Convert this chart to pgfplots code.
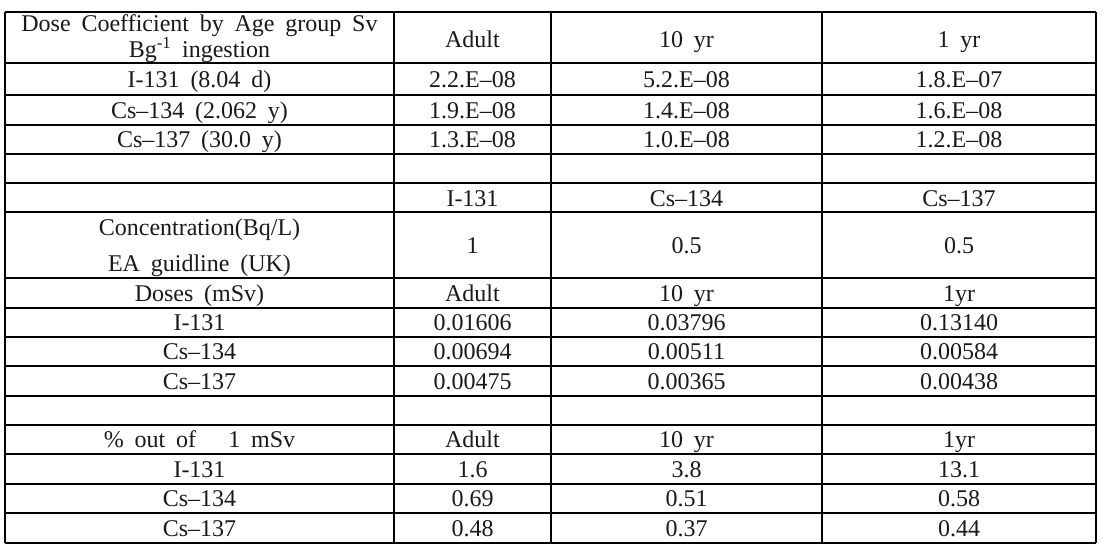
\documentclass[border=0pt]{standalone}
\usepackage{pgfplots}
\pgfplotsset{compat=1.18}
\usepackage{fontspec}
\setmainfont{Liberation Serif}[WordSpace=1.8]
\begin{document}
\begin{tikzpicture}
\begin{axis}[
  width=1106pt, height=555pt, scale only axis,
  xmin=0, xmax=1106, ymin=0, ymax=555, y dir=reverse,
  axis lines=none, xtick=\empty, ytick=\empty,
  clip=false,
]
% bounding frame (invisible)
\addplot[draw=none] coordinates {(0,0) (1106,555)};
% horizontal rules
\pgfplotsinvokeforeach{12,63,95,125,154,183,212,278,308,337,366,396,425,454,484,513,543}{
  \addplot[black, line width=1.2pt] coordinates {(5,#1) (1096,#1)};
}
% vertical rules
\pgfplotsinvokeforeach{5,394,551,822,1096}{
  \addplot[black, line width=1.2pt] coordinates {(#1,12) (#1,543)};
}
% cell texts
\addplot[draw=none, nodes near coords, point meta=explicit symbolic,
  every node near coord/.append style={anchor=base, inner sep=0pt, text=black!90,
    font=\fontsize{24}{28}\selectfont}]
table[col sep=semicolon, meta=label] {
x;y;label
199.5;31;Dose Coefficient by Age group Sv
199.5;57.5;Bg\textsuperscript{-1} ingestion
472.5;47;Adult
686.5;47;10 yr
959;47;1 yr
199.5;87.5;I-131 (8.04 d)
472.5;87.5;2.2.E--08
686.5;87.5;5.2.E--08
959;87.5;1.8.E--07
199.5;118;Cs--134 (2.062 y)
472.5;118;1.9.E--08
686.5;118;1.4.E--08
959;118;1.6.E--08
199.5;147.5;Cs--137 (30.0 y)
472.5;147.5;1.3.E--08
686.5;147.5;1.0.E--08
959;147.5;1.2.E--08
472.5;206;I-131
686.5;206;Cs--134
959;206;Cs--137
199.5;235.5;Concentration(Bq/L)
199.5;271;EA guidline (UK)
472.5;253;1
686.5;253;0.5
959;253;0.5
199.5;301.5;Doses (mSv)
472.5;301.5;Adult
686.5;301.5;10 yr
959;301.5;1yr
199.5;330.5;I-131
472.5;330.5;0.01606
686.5;330.5;0.03796
959;330.5;0.13140
199.5;359.5;Cs--134
472.5;359.5;0.00694
686.5;359.5;0.00511
959;359.5;0.00584
199.5;389;Cs--137
472.5;389;0.00475
686.5;389;0.00365
959;389;0.00438
199.5;447.5;\% out of\ \ \ 1 mSv
472.5;447.5;Adult
686.5;447.5;10 yr
959;447.5;1yr
199.5;477;I-131
472.5;477;1.6
686.5;477;3.8
959;477;13.1
199.5;506.5;Cs--134
472.5;506.5;0.69
686.5;506.5;0.51
959;506.5;0.58
199.5;536;Cs--137
472.5;536;0.48
686.5;536;0.37
959;536;0.44
};
\end{axis}
\end{tikzpicture}
\end{document}
